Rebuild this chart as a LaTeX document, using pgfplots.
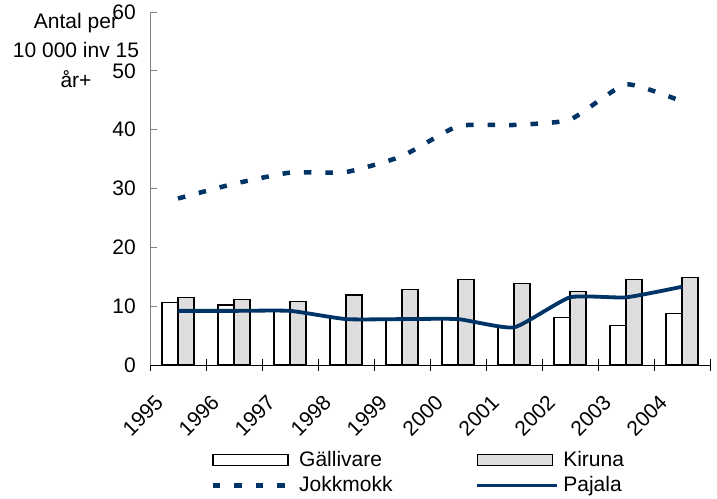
\documentclass[border=0pt]{standalone}
\usepackage{pgfplots}
\pgfplotsset{compat=1.18}
\usepackage{fontspec}
\setmainfont{Liberation Sans}
\definecolor{navy}{RGB}{0,51,102}
\definecolor{kir}{RGB}{222,222,222}
\pgfplotsset{
  barleg/.style={legend image code/.code={\draw[##1] (0bp,-5.5bp) rectangle (75bp,5.5bp);}},
  lineleg/.style={legend image code/.code={\draw[##1] (0bp,0bp) -- (80bp,0bp);}},
}
\begin{document}
\fontsize{21bp}{23bp}\selectfont
\begin{tikzpicture}
\useasboundingbox (-150bp,-134bp) rectangle (567bp,365bp);
\begin{axis}[
  scale only axis, width=560bp, height=353bp,
  xmin=-0.5, xmax=9.5, ymin=0, ymax=60,
  axis x line*=bottom, axis y line*=left,
  x axis line style={black, line width=0.9bp, -},
  y axis line style={gray, line width=0.9bp, -},
  ytick={0,10,...,60},
  ytick align=inside, major tick length=7bp,
  y tick style={gray, line width=0.9bp},
  xtick={0,...,9}, xticklabels={1995,1996,1997,1998,1999,2000,2001,2002,2003,2004},
  minor xtick={-0.5,0.5,...,9.5},
  major x tick style={draw=none},
  minor x tick style={black, line width=0.9bp},
  xtick align=center, minor tick length=12bp,
  /pgf/number format/assume math mode=true,
  ticklabel style={font=\fontsize{21bp}{23bp}\selectfont},
  yticklabel style={xshift=-7bp},
  xticklabel style={xshift=-24bp, yshift=-25bp, rotate=45, anchor=north east, inner sep=0pt},
  legend columns=2,
  legend cell align=left,
  legend style={draw=none, fill=none, inner sep=0pt, anchor=north west, at={(0.108,-0.24)},
    font=\fontsize{21bp}{23bp}\selectfont,
    nodes={inner sep=1bp},
    /tikz/row sep=5bp,
    /tikz/every odd column/.style={column sep=3bp},
    /tikz/column 2/.style={column sep=82bp}},
]
\addplot[ybar, bar width=16bp, bar shift=-8bp, fill=white, draw=black, line width=1.2bp, barleg]
  coordinates {(0,10.6) (1,10.2) (2,9.2) (3,8.0) (4,7.8) (5,7.8) (6,6.5) (7,8.1) (8,6.7) (9,8.8)};
\addlegendentry{Gällivare}
\addplot[ybar, bar width=16bp, bar shift=8bp, fill=kir, draw=black, line width=1.2bp, barleg]
  coordinates {(0,11.5) (1,11.2) (2,10.8) (3,11.9) (4,12.9) (5,14.6) (6,13.9) (7,12.5) (8,14.6) (9,14.9)};
\addlegendentry{Kiruna}
\addplot[navy, line width=4.5bp, dash pattern=on 7.5bp off 14bp, smooth, tension=0.3, lineleg]
  coordinates {(0,28.3) (1,30.8) (2,32.7) (3,32.8) (4,35.5) (5,40.6) (6,40.8) (7,41.7) (8,47.7) (9,44.8)};
\addlegendentry{Jokkmokk}
\addplot[navy, line width=3.8bp, smooth, tension=0.3, lineleg]
  coordinates {(0,9.2) (1,9.2) (2,9.2) (3,7.8) (4,7.8) (5,7.8) (6,6.4) (7,11.5) (8,11.5) (9,13.3)};
\addlegendentry{Pajala}
\end{axis}
\node[anchor=north, align=center, inner sep=0pt, font=\fontsize{21bp}{29.5bp}\selectfont] at (-74bp,352bp) {Antal per\\10 000 inv 15\\år+};
\end{tikzpicture}
\end{document}
